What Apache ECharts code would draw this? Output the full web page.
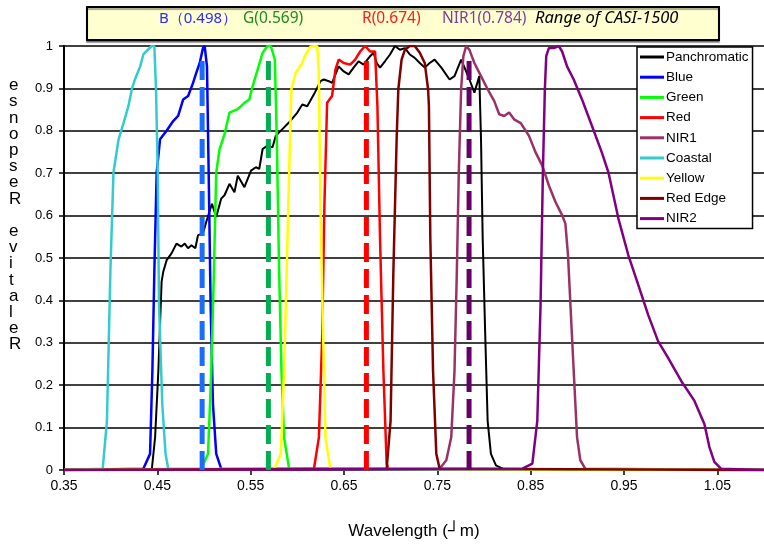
<!DOCTYPE html>
<html lang="en">
<head>
	<meta charset="UTF-8">
	<title>CASI-1500 band response</title>
	<script src="https://cdn.jsdelivr.net/npm/echarts@6/dist/echarts.min.js"></script>
	<style>
		html,body{margin:0;padding:0;background:#fff;}
	</style>
</head>
<body>
	<div id="app" style="width: 764px;height:545px"></div>

	<script>
		// [wavelength (um), relative response]
		var panchromatic=[[0.35,0],[0.444,0],[0.4476,0.077],[0.4511,0.234],[0.4546,0.445],[0.4564,0.468],[0.46,0.495],[0.4652,0.511],[0.4705,0.534],[0.4758,0.527],[0.4794,0.534],[0.4829,0.523],[0.4865,0.53],[0.4907,0.523],[0.4936,0.554],[0.4989,0.558],[0.5024,0.585],[0.5085,0.628],[0.5131,0.597],[0.5184,0.64],[0.522,0.648],[0.5273,0.675],[0.5326,0.655],[0.5362,0.694],[0.5433,0.667],[0.5504,0.706],[0.5556,0.714],[0.5592,0.71],[0.5628,0.757],[0.5681,0.765],[0.5734,0.761],[0.5769,0.788],[0.584,0.804],[0.5912,0.82],[0.6,0.843],[0.6053,0.862],[0.6106,0.858],[0.6178,0.886],[0.6248,0.917],[0.6284,0.921],[0.6337,0.917],[0.6372,0.913],[0.6443,0.952],[0.6497,0.94],[0.655,0.933],[0.6603,0.949],[0.6656,0.964],[0.6709,0.956],[0.678,0.976],[0.6816,0.984],[0.6851,0.96],[0.6886,0.949],[0.6939,0.964],[0.6993,0.98],[0.7046,1.0],[0.7099,0.991],[0.7152,0.995],[0.7205,0.98],[0.7258,0.972],[0.7312,0.96],[0.7365,0.949],[0.7418,0.96],[0.7471,0.968],[0.7543,0.949],[0.7631,0.921],[0.7684,0.929],[0.7755,0.968],[0.7801,0.944],[0.7844,0.921],[0.7897,0.89],[0.795,0.929],[0.7968,0.78],[0.7986,0.546],[0.8014,0.312],[0.8039,0.116],[0.8074,0.038],[0.8128,0.011],[0.8199,0.003],[0.825,0],[1.1,0]];
		var blue=[[0.35,0],[0.435,0.003],[0.4422,0.038],[0.4447,0.234],[0.4468,0.468],[0.4493,0.702],[0.4529,0.78],[0.4599,0.8],[0.467,0.823],[0.4723,0.835],[0.4777,0.874],[0.483,0.882],[0.4883,0.913],[0.4918,0.937],[0.4954,0.96],[0.4989,0.995],[0.5007,1.0],[0.5032,0.952],[0.505,0.702],[0.5071,0.39],[0.5096,0.155],[0.5131,0.038],[0.5184,0.003],[1.1,0]];
		var green=[[0.35,0],[0.4971,0.003],[0.5043,0.038],[0.5078,0.234],[0.5106,0.468],[0.5131,0.702],[0.5167,0.757],[0.522,0.792],[0.5273,0.843],[0.5362,0.851],[0.5433,0.866],[0.5486,0.874],[0.5521,0.905],[0.5574,0.944],[0.5628,0.984],[0.5681,1.0],[0.5716,1.0],[0.5759,0.968],[0.578,0.78],[0.5805,0.468],[0.583,0.234],[0.5858,0.077],[0.5912,0.003],[1.1,0]];
		var red=[[0.35,0],[0.6178,0.003],[0.6231,0.077],[0.6266,0.312],[0.629,0.624],[0.6319,0.866],[0.6372,0.882],[0.6408,0.944],[0.6443,0.968],[0.6461,0.972],[0.6497,0.96],[0.6567,0.956],[0.662,0.968],[0.6673,0.987],[0.6727,1.0],[0.678,0.987],[0.6833,0.987],[0.6858,0.858],[0.6886,0.546],[0.6922,0.234],[0.6957,0.015],[0.6975,0.003],[1.1,0]];
		var nir1=[[0.35,0],[0.7525,0.003],[0.7596,0.023],[0.7649,0.077],[0.7684,0.234],[0.7709,0.468],[0.773,0.702],[0.7755,0.898],[0.7779,0.976],[0.7809,1.0],[0.7844,0.991],[0.7897,0.96],[0.7968,0.929],[0.8039,0.898],[0.811,0.87],[0.8163,0.839],[0.8216,0.835],[0.8269,0.843],[0.8322,0.827],[0.8394,0.818],[0.8482,0.788],[0.8553,0.749],[0.8624,0.718],[0.8695,0.671],[0.8766,0.632],[0.8837,0.601],[0.8872,0.581],[0.89,0.507],[0.8926,0.39],[0.8961,0.234],[0.8997,0.077],[0.9032,0.023],[0.9085,0.003],[1.1,0]];
		var coastal=[[0.35,0],[0.3915,0.003],[0.396,0.116],[0.3997,0.468],[0.403,0.702],[0.4085,0.78],[0.414,0.82],[0.419,0.858],[0.4227,0.898],[0.426,0.921],[0.4316,0.952],[0.435,0.98],[0.4397,0.991],[0.444,1.0],[0.4468,1.0],[0.4486,0.898],[0.4504,0.702],[0.4518,0.39],[0.4553,0.155],[0.4588,0.038],[0.4617,0.003],[1.1,0]];
		var yellow=[[0.35,0],[0.5752,0.003],[0.5823,0.038],[0.5858,0.234],[0.5886,0.468],[0.5912,0.702],[0.5936,0.898],[0.5982,0.937],[0.6053,0.96],[0.6089,0.98],[0.6141,0.999],[0.6213,1.0],[0.623,0.937],[0.6248,0.624],[0.6277,0.312],[0.6301,0.077],[0.6354,0.003],[1.1,0]];
		var redEdge=[[0.35,0],[0.6957,0.003],[0.6999,0.116],[0.7029,0.468],[0.7064,0.78],[0.7082,0.898],[0.7117,0.968],[0.7152,0.991],[0.7205,1.0],[0.7258,1.0],[0.7312,0.984],[0.7365,0.96],[0.7401,0.898],[0.741,0.858],[0.7425,0.546],[0.7454,0.234],[0.7489,0.038],[0.7525,0.003],[1.1,0]];
		var nir2=[[0.35,0],[0.8412,0.003],[0.8518,0.015],[0.8571,0.116],[0.8606,0.39],[0.8631,0.702],[0.8652,0.898],[0.8667,0.976],[0.8695,0.995],[0.8748,0.995],[0.8801,1.0],[0.8837,0.987],[0.889,0.952],[0.8961,0.921],[0.905,0.874],[0.9156,0.812],[0.9262,0.749],[0.9333,0.702],[0.944,0.593],[0.9546,0.507],[0.9652,0.437],[0.9759,0.366],[0.9865,0.304],[0.9971,0.265],[1.0113,0.21],[1.0255,0.163],[1.0362,0.108],[1.0415,0.054],[1.0468,0.019],[1.0539,0.003],[1.1,0]];

		var bandNames=["Panchromatic","Blue","Green","Red","NIR1","Coastal","Yellow","Red Edge","NIR2"];
		var bandData=[panchromatic,blue,green,red,nir1,coastal,yellow,redEdge,nir2];
		var bandColors=["#000000","#0000ff","#00ff00","#ff0000","#993366","#33cccc","#ffff00","#800000","#800080"];

		// centre wavelengths marked with dashed lines
		var centerWl=[0.498,0.569,0.674,0.784];
		var centerTop=0.98;
		var centerColors=["#1a6cff","#00b050","#ff0000","#660066"];

		var xTicks={min:0.35,max:1.1,interval:0.1};
		var yTicks={min:0,max:1,interval:0.1};

		var font="Liberation Sans";

		var series=[];
		bandNames.forEach(function(n,i){
			series.push({
				name:n,
				type:"line",
				data:bandData[i],
				symbol:"none",
				lineStyle:{color:bandColors[i],width:n=="Panchromatic"?2:2.5},
				itemStyle:{color:bandColors[i]},
				z:2
			});
		});
		centerWl.forEach(function(w,i){
			series.push({
				name:"c"+i,
				type:"line",
				data:[[w,0],[w,centerTop]],
				symbol:"none",
				lineStyle:{color:centerColors[i],width:5,type:[19,7]},
				z:3
			});
		});

		var myChart=echarts.init(document.getElementById('app'));
		var option={
			animation:false,
			backgroundColor:"#fff",
			grid:{left:64,right:-6,top:46,bottom:72},
			legend:{
				data:bandNames,
				orient:"vertical",
				left:637,
				top:47,
				icon:"rect",
				itemWidth:24,
				itemHeight:3,
				itemGap:6.2,
				padding:[3,4,3,3],
				backgroundColor:"#fff",
				borderColor:"#000",
				borderWidth:1.5,
				textStyle:{fontFamily:font,fontSize:13.5,color:"#000",padding:[0,0,0,-3]}
			},
			xAxis:{
				type:"value",
				min:xTicks.min,
				max:xTicks.max,
				interval:xTicks.interval,
				name:"Wavelength (┘m)",
				nameLocation:"middle",
				nameGap:53,
				nameTextStyle:{fontFamily:font,fontSize:17,color:"#000"},
				axisLine:{onZero:false,lineStyle:{color:"#000",width:1.5}},
				axisTick:{show:true,inside:false,length:5,lineStyle:{color:"#000",width:1.5}},
				axisLabel:{
					fontFamily:font,fontSize:14,color:"#000",margin:9,showMaxLabel:false,
					formatter:function(v){return v.toFixed(2);}
				},
				splitLine:{show:false}
			},
			yAxis:{
				type:"value",
				min:yTicks.min,
				max:yTicks.max,
				interval:yTicks.interval,
				axisLine:{show:true,lineStyle:{color:"#000",width:2}},
				axisTick:{show:true,inside:false,length:5,lineStyle:{color:"#000",width:1.5}},
				axisLabel:{fontFamily:font,fontSize:13,color:"#000",margin:11},
				splitLine:{show:true,lineStyle:{color:"#000",width:1.5}}
			},
			graphic:[
				{type:"rect",left:86,top:6,shape:{width:632,height:33},
					style:{fill:"#ffffd0",stroke:"#000",lineWidth:2,shadowColor:"rgba(0,0,0,0.35)",shadowOffsetY:2,shadowBlur:1},z:10},
				{type:"text",left:159,top:11,style:{text:"B（0.498）",fill:"#2b2bff",font:"15px 'Noto Sans'"},z:11},
				{type:"text",left:243,top:11,style:{text:"G(0.569)",fill:"#1e8a1e",font:"15.5px 'Noto Sans'"},z:11},
				{type:"text",left:362,top:11,style:{text:"R(0.674)",fill:"#ff1a1a",font:"15.5px 'Noto Sans'"},z:11},
				{type:"text",left:442,top:11,style:{text:"NIR1(0.784)",fill:"#7f3f98",font:"15.5px 'Noto Sans'"},z:11},
				{type:"text",left:535,top:10,style:{text:"Range of CASI-1500",fill:"#000",font:"italic 16.5px 'Noto Sans'"},z:11},
				{type:"text",left:9,top:77,style:{text:"e\ns\nn\no\np\ns\ne\nR\n \ne\nv\ni\nt\na\nl\ne\nR",fill:"#000",
					font:"17px "+font,lineHeight:16.2,align:"center"},z:11}
			],
			series:series
		};
		myChart.setOption(option);
	</script>
</body>
</html>
